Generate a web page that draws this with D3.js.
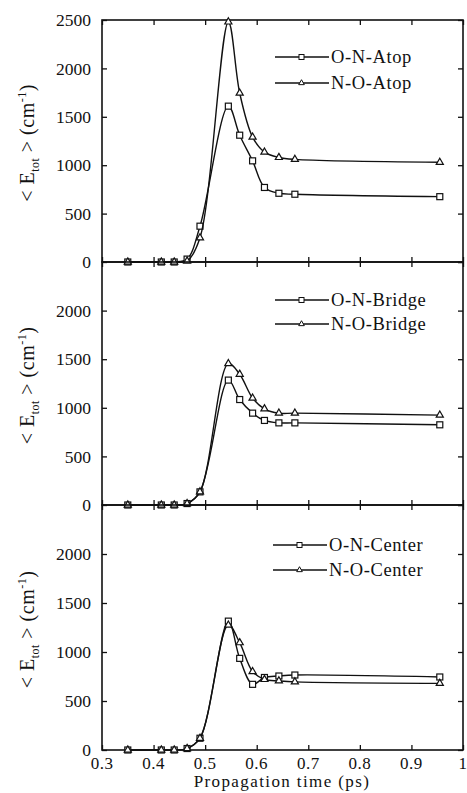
<!DOCTYPE html>
<html>
<head>
<meta charset="utf-8">
<script src="https://cdn.jsdelivr.net/npm/d3@7"></script>
<style>
  html, body { margin: 0; padding: 0; background: #fff; }
  svg { display: block; }
  text { font-family: "Liberation Serif", "DejaVu Serif", serif; fill: #111; }
</style>
</head>
<body>
<div id="chart"></div>
<script>
// propagation times (ps) shared by every series
const times = [0.35, 0.415, 0.44, 0.465, 0.49, 0.545, 0.567, 0.592, 0.615, 0.643, 0.674, 0.955];

// <E_tot> in cm^-1
const atopON   = [0, 0, 0, 30, 370, 1610, 1310, 1045, 770, 710, 700, 675];
const atopNO   = [0, 0, 0, 10, 250, 2480, 1745, 1290, 1135, 1080, 1060, 1030];
const bridgeON = [0, 0, 0, 15, 135, 1285, 1085, 945, 870, 845, 845, 825];
const bridgeNO = [0, 0, 0, 15, 135, 1455, 1345, 1100, 990, 945, 945, 925];
const centerON = [0, 0, 0, 15, 120, 1315, 935, 670, 740, 755, 765, 745];
const centerNO = [0, 0, 0, 15, 120, 1275, 1095, 800, 720, 705, 695, 680];

const xTicks = [0.3, 0.4, 0.5, 0.6, 0.7, 0.8, 0.9, 1.0];
const xTickLabels = ['0.3', '0.4', '0.5', '0.6', '0.7', '0.8', '0.9', '1'];
const yTicks = [0, 500, 1000, 1500, 2000, 2500];

const panels = [
    { names: ['O-N-Atop', 'N-O-Atop'], series: [atopON, atopNO], top: 20, bottom: 262, showTop: true },
    { names: ['O-N-Bridge', 'N-O-Bridge'], series: [bridgeON, bridgeNO], top: 262, bottom: 505, showTop: false },
    { names: ['O-N-Center', 'N-O-Center'], series: [centerON, centerNO], top: 505, bottom: 750, showTop: false }
];

const width = 467, height = 793;
const left = 102, right = 463;

const svg = d3.select('#chart').append('svg')
    .attr('width', width)
    .attr('height', height);

const x = d3.scaleLinear().domain([0.3, 1.0]).range([left, right]);

const line = d3.line().curve(d3.curveCatmullRom.alpha(0.5));
const tri = d3.symbol().type(d3.symbolTriangle).size(22);

panels.forEach((p, pi) => {
    const y = d3.scaleLinear().domain([0, 2500]).range([p.bottom, p.top]);
    const g = svg.append('g');

    // frame
    g.append('rect')
        .attr('x', left).attr('y', p.top)
        .attr('width', right - left).attr('height', p.bottom - p.top)
        .attr('fill', 'none').attr('stroke', '#111').attr('stroke-width', 1.6);

    // inward ticks on all four sides
    g.append('g').attr('transform', `translate(0,${p.bottom})`)
        .call(d3.axisBottom(x).tickValues(xTicks).tickSize(-5).tickFormat(''))
        .call(a => a.select('.domain').remove());
    g.append('g').attr('transform', `translate(0,${p.top})`)
        .call(d3.axisTop(x).tickValues(xTicks).tickSize(-5).tickFormat(''))
        .call(a => a.select('.domain').remove());
    g.append('g').attr('transform', `translate(${right},0)`)
        .call(d3.axisRight(y).tickValues(yTicks).tickSize(-5).tickFormat(''))
        .call(a => a.select('.domain').remove());

    // left axis with labels
    const labTicks = p.showTop ? yTicks : yTicks.slice(0, 5);
    g.append('g').attr('transform', `translate(${left},0)`)
        .call(d3.axisLeft(y).tickValues(labTicks).tickSize(-5).tickPadding(11).tickFormat(d3.format('d')))
        .call(a => a.select('.domain').remove())
        .call(a => a.selectAll('text').attr('font-size', 17.5).attr('font-family', '"Liberation Serif", serif').attr('fill', '#111'));

    g.selectAll('.tick line').attr('stroke', '#111').attr('stroke-width', 1.3);

    // y label
    const yl = g.append('text')
        .attr('transform', `translate(34,${(p.top + p.bottom) / 2 + 2}) rotate(-90)`)
        .attr('text-anchor', 'middle')
        .attr('font-size', 20)
        .attr('letter-spacing', 0.5);
    yl.append('tspan').text('< E');
    yl.append('tspan').attr('font-size', 12).attr('dy', 5).text('tot');
    yl.append('tspan').attr('dy', -5).text(' > (cm');
    yl.append('tspan').attr('font-size', 12).attr('dy', -8).text('-1');
    yl.append('tspan').attr('dy', 8).text(')');

    // data lines and markers
    p.series.forEach((vals, si) => {
        const pts = times.map((t, i) => [x(t), y(vals[i])]);
        g.append('path')
            .attr('d', line(pts))
            .attr('fill', 'none').attr('stroke', '#111').attr('stroke-width', 1.4);
        pts.forEach(([px, py]) => {
            if (si === 0) {
                g.append('rect')
                    .attr('x', px - 3).attr('y', py - 3).attr('width', 6).attr('height', 6)
                    .attr('fill', '#fff').attr('stroke', '#111').attr('stroke-width', 1.2);
            } else {
                g.append('path')
                    .attr('d', tri)
                    .attr('transform', `translate(${px},${py})`)
                    .attr('fill', '#fff').attr('stroke', '#111').attr('stroke-width', 1.2);
            }
        });
    });

    // legend
    const ly = pi === 0 ? [57, 83] : pi === 1 ? [300, 324] : [545, 570];
    const lx0 = pi === 2 ? 273 : 275;
    p.names.forEach((name, si) => {
        const lg = g.append('g').attr('transform', `translate(${lx0},${ly[si]})`);
        lg.append('line').attr('x1', 0).attr('x2', 54).attr('y1', 0).attr('y2', 0)
            .attr('stroke', '#111').attr('stroke-width', 1.4);
        if (si === 0) {
            lg.append('rect').attr('x', 24).attr('y', -2.5).attr('width', 5).attr('height', 5)
                .attr('fill', '#fff').attr('stroke', '#111').attr('stroke-width', 1);
        } else {
            lg.append('path').attr('d', d3.symbol().type(d3.symbolTriangle).size(14))
                .attr('transform', 'translate(26.5,0)')
                .attr('fill', '#fff').attr('stroke', '#111').attr('stroke-width', 1);
        }
        lg.append('text').attr('x', 56).attr('y', 6).attr('font-size', 18.5)
            .attr('letter-spacing', 0.6).text(name);
    });
});

// x tick labels and title under the bottom panel
const xl = svg.append('g');
xl.selectAll('text.xt')
    .data(xTicks)
    .enter()
    .append('text')
    .attr('class', 'xt')
    .attr('x', d => x(d))
    .attr('y', 769)
    .attr('text-anchor', 'middle')
    .attr('font-size', 17)
    .attr('letter-spacing', 0.5)
    .text((d, i) => xTickLabels[i]);

xl.append('text')
    .attr('x', 282).attr('y', 787)
    .attr('text-anchor', 'middle')
    .attr('font-size', 17)
    .attr('letter-spacing', 1.4)
    .text('Propagation time (ps)');
</script>
</body>
</html>
